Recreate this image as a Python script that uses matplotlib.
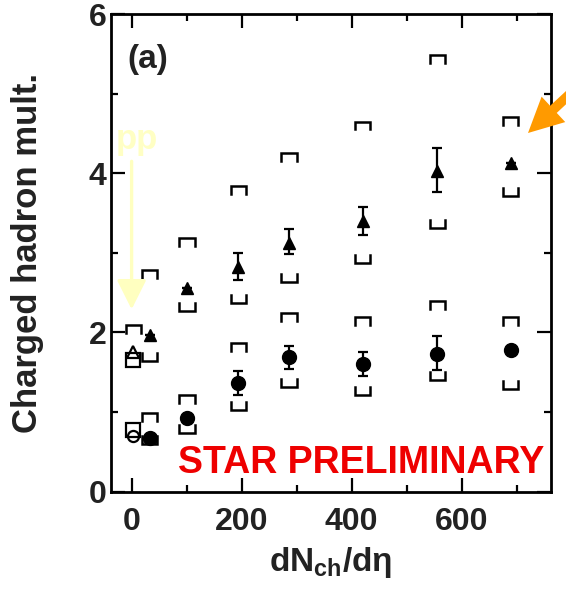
import matplotlib
matplotlib.use("Agg")
import matplotlib.pyplot as plt
from matplotlib.ticker import MultipleLocator

plt.rcParams['font.family'] = ['Liberation Sans', 'DejaVu Sans']
plt.rcParams['mathtext.fontset'] = 'custom'
plt.rcParams['mathtext.bf'] = 'Liberation Sans:bold'

# Au+Au / d+Au centrality bins (dN_ch/deta)
dndeta = [33, 101, 194, 286, 420, 556, 689]

# Triangles: upper series
tri_val = [1.97, 2.56, 2.82, 3.13, 3.40, 4.03, 4.13]
tri_stat_lo = [0.0, 0.0, 0.16, 0.15, 0.18, 0.27, 0.0]
tri_stat_hi = [0.0, 0.0, 0.18, 0.17, 0.18, 0.29, 0.0]
tri_sys_hi = [2.79, 3.19, 3.84, 4.25, 4.65, 5.49, 4.71]
tri_sys_lo = [1.64, 2.27, 2.37, 2.64, 2.87, 3.31, 3.71]

# Circles: lower series
circ_val = [0.68, 0.93, 1.37, 1.69, 1.60, 1.73, 1.78]
circ_stat_lo = [0.0, 0.0, 0.15, 0.15, 0.15, 0.20, 0.0]
circ_stat_hi = [0.0, 0.0, 0.14, 0.14, 0.16, 0.23, 0.0]
circ_sys_hi = [0.99, 1.22, 1.87, 2.24, 2.19, 2.40, 2.19]
circ_sys_lo = [0.60, 0.74, 1.03, 1.32, 1.22, 1.40, 1.29]

# p+p reference
pp_x = 3
pp_tri = 1.75
pp_tri_box = 1.66
pp_tri_sys_hi = 2.09
pp_circ = 0.70
pp_circ_box = 0.78

fig = plt.figure(figsize=(5.66, 5.97), dpi=100)
ax = fig.add_axes([0.1956, 0.1764, 0.7774, 0.8001])

BW = 14     # half width of systematic brackets (x units)
BH = 0.10   # leg length of systematic brackets (y units)
LW = 1.8


def bracket_top(x, y):
    ax.plot([x - BW, x - BW, x + BW, x + BW], [y - BH, y, y, y - BH],
            color='black', lw=LW, solid_joinstyle='miter', zorder=3)


def bracket_bot(x, y):
    ax.plot([x - BW, x - BW, x + BW, x + BW], [y + BH, y, y, y + BH],
            color='black', lw=LW, solid_joinstyle='miter', zorder=3)


for x, hi, lo in zip(dndeta, tri_sys_hi, tri_sys_lo):
    bracket_top(x, hi)
    bracket_bot(x, lo)
for x, hi, lo in zip(dndeta, circ_sys_hi, circ_sys_lo):
    bracket_top(x, hi)
    bracket_bot(x, lo)
bracket_top(pp_x, pp_tri_sys_hi)

ax.errorbar(dndeta, tri_val, yerr=[tri_stat_lo, tri_stat_hi], fmt='^',
            color='black', ms=9, capsize=3.5, elinewidth=1.6, capthick=1.6, zorder=4)
ax.errorbar(dndeta, circ_val, yerr=[circ_stat_lo, circ_stat_hi], fmt='o',
            color='black', ms=10, capsize=3.5, elinewidth=1.6, capthick=1.6, zorder=4)

# p+p open symbols
ax.plot([pp_x], [pp_tri_box], marker='s', ms=10, mfc='white', mec='black', mew=1.6, ls='none', zorder=4)
ax.plot([pp_x], [pp_tri], marker='^', ms=9, mfc='none', mec='black', mew=1.6, ls='none', zorder=5)
ax.plot([pp_x], [pp_circ_box], marker='s', ms=10, mfc='white', mec='black', mew=1.6, ls='none', zorder=4)
ax.plot([pp_x], [pp_circ], marker='o', ms=8, mfc='none', mec='black', mew=1.6, ls='none', zorder=5)

ax.set_xlim(-38, 762)
ax.set_ylim(0, 6)
ax.xaxis.set_major_locator(MultipleLocator(200))
ax.xaxis.set_minor_locator(MultipleLocator(100))
ax.yaxis.set_major_locator(MultipleLocator(2))
ax.yaxis.set_minor_locator(MultipleLocator(1))
ax.tick_params(which='both', direction='in', top=True, right=True, width=1.6)
ax.tick_params(which='major', length=10)
ax.tick_params(which='minor', length=5)
ax.tick_params(axis='x', which='major', pad=11)
ax.tick_params(axis='y', which='major', pad=3)
for lab in ax.get_xticklabels() + ax.get_yticklabels():
    lab.set_fontsize(23)
    lab.set_fontweight('bold')
    lab.set_color('#222222')
for s in ax.spines.values():
    s.set_linewidth(2)

ax.set_ylabel('Charged hadron mult.', fontsize=25, fontweight='bold', color='#222222')
ax.yaxis.set_label_coords(-0.152, 0.5)
ax.set_xlabel(r'dN$_{\mathbf{ch}}$/d$\mathbf{\eta}$', fontsize=24, fontweight='bold',
              color='#222222', labelpad=6)

ax.text(0.037, 0.905, '(a)', transform=ax.transAxes, fontsize=24, fontweight='bold',
        color='#222222', ha='left', va='center')
ax.text(0.985, 0.060, 'STAR PRELIMINARY', transform=ax.transAxes, fontsize=27,
        fontweight='bold', color='#ee0000', ha='right', va='center')

# p+p pointer
ax.text(10, 4.42, 'pp', fontsize=25, fontweight='bold', color='#ffffc4', ha='center', va='center')
ax.annotate('', xy=(0, 2.29), xytext=(0, 4.15),
            arrowprops=dict(arrowstyle='-|>,head_length=1.8,head_width=0.9', color='#ffffc0',
                            lw=2.4, shrinkA=0, shrinkB=0))

# orange pointer toward the most central bin
ax.annotate('', xy=(528, 464), xycoords='figure pixels', xytext=(628, 557),
            textcoords='figure pixels',
            arrowprops=dict(arrowstyle='simple,head_length=1.0,head_width=1.0,tail_width=0.28',
                            color='#ff9a00', lw=0, shrinkA=0, shrinkB=0, mutation_scale=25),
            annotation_clip=False)

fig.savefig('out.png', dpi=100)
